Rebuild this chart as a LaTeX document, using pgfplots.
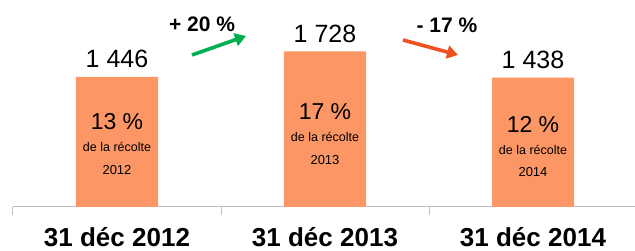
\documentclass[border=0pt]{standalone}
\usepackage{pgfplots}
\pgfplotsset{compat=1.18}
\usepackage{fontspec}
\setmainfont{Liberation Sans}
\usetikzlibrary{arrows.meta}
\definecolor{barc}{RGB}{252,150,100}
\definecolor{arrg}{RGB}{0,176,80}
\definecolor{arrr}{RGB}{238,80,32}
\definecolor{axc}{RGB}{190,190,190}
\begin{document}
\begin{tikzpicture}
\useasboundingbox (0,0) rectangle (635pt,251pt);
\begin{axis}[
  at={(13pt,44pt)}, anchor=south west,
  scale only axis, width=624pt, height=207pt,
  xmin=-0.5, xmax=2.5, ymin=0, ymax=2300,
  axis x line=bottom, axis y line=none,
  axis line style={draw=axc, line width=1pt, -},
  xtick={0,1,2}, xticklabels={31 déc 2012, 31 déc 2013, 31 déc 2014},
  major x tick style={draw=none}, major tick length=0pt,
  minor xtick={-0.5,0.5,1.5,2.5}, minor tick length=8pt, tick align=outside,
  minor x tick style={draw=axc, line width=1pt},
  xticklabel style={font=\fontsize{26}{26}\bfseries\selectfont, anchor=base, yshift=-40pt, inner sep=0pt},
  ybar, bar width=82pt, clip=false,
]
\addplot[fill=barc, draw=none] coordinates {(0,1446) (1,1728) (2,1438)};
\node[anchor=base, yshift=9pt, font=\fontsize{25}{25}\selectfont] at (axis cs:0,1446) {1 446};
\node[anchor=base, yshift=9pt, font=\fontsize{25}{25}\selectfont] at (axis cs:1,1728) {1 728};
\node[anchor=base, yshift=9pt, font=\fontsize{25}{25}\selectfont] at (axis cs:2,1438) {1 438};
\node[anchor=base, font=\fontsize{23}{23}\selectfont] at (axis cs:0,856) {13 \%};
\node[anchor=base, yshift=-22pt, font=\fontsize{12.5}{12.5}\selectfont] at (axis cs:0,856) {de la récolte};
\node[anchor=base, yshift=-44.5pt, font=\fontsize{13}{13}\selectfont] at (axis cs:0,856) {2012};
\node[anchor=base, font=\fontsize{23}{23}\selectfont] at (axis cs:1,967) {17 \%};
\node[anchor=base, yshift=-22pt, font=\fontsize{12.5}{12.5}\selectfont] at (axis cs:1,967) {de la récolte};
\node[anchor=base, yshift=-44.5pt, font=\fontsize{13}{13}\selectfont] at (axis cs:1,967) {2013};
\node[anchor=base, font=\fontsize{23}{23}\selectfont] at (axis cs:2,833) {12 \%};
\node[anchor=base, yshift=-22pt, font=\fontsize{12.5}{12.5}\selectfont] at (axis cs:2,833) {de la récolte};
\node[anchor=base, yshift=-44.5pt, font=\fontsize{13}{13}\selectfont] at (axis cs:2,833) {2014};
\end{axis}
\draw[arrg, line width=3.6pt, -{Triangle[length=11pt,width=13pt]}] (192pt,196pt) -- (246pt,215pt);
\node[anchor=base, font=\fontsize{21}{21}\bfseries\selectfont] at (202pt,219pt) {+ 20 \%};
\draw[arrr, line width=3.6pt, -{Triangle[length=11pt,width=13pt]}] (403pt,211pt) -- (458pt,196pt);
\node[anchor=base, font=\fontsize{21}{21}\bfseries\selectfont] at (447pt,218pt) {- 17 \%};
\end{tikzpicture}
\end{document}
